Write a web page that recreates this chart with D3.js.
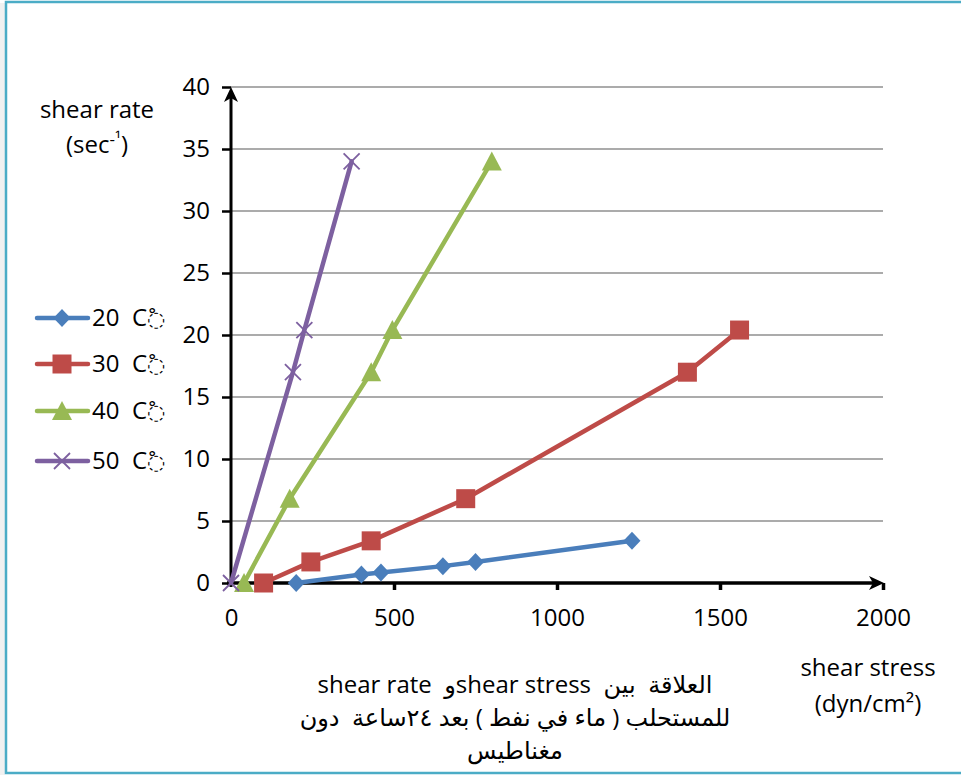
<!DOCTYPE html>
<html>
<head>
<meta charset="utf-8">
<script src="https://cdn.jsdelivr.net/npm/d3@7"></script>
<style>
  html, body { margin: 0; padding: 0; background: #fff; }
  svg { display: block; }
  text { font-family: "Open Sans", "DejaVu Sans", sans-serif; fill: #000; }
</style>
</head>
<body>
<div id="chart"></div>
<script>
// Shear rate (sec^-1) against shear stress (dyn/cm²) at four temperatures
const seriesNames = ["20  C\u25CC\u0652", "30  C\u25CC\u0652", "40  C\u25CC\u0652", "50  C\u25CC\u0652"];
const stress20 = [200, 400, 460, 650, 750, 1230];
const rate20   = [0, 0.68, 0.85, 1.36, 1.7, 3.4];
const stress30 = [100, 245, 430, 720, 1400, 1560];
const rate30   = [0, 1.7, 3.4, 6.8, 17, 20.4];
const stress40 = [40, 180, 430, 495, 800];
const rate40   = [0, 6.8, 17, 20.4, 34];
const stress50 = [0, 190, 225, 370];
const rate50   = [0, 17, 20.4, 34];
const xTicks = [0, 500, 1000, 1500, 2000];
const yTicks = [0, 5, 10, 15, 20, 25, 30, 35, 40];
const colors = ["#4a7ebb", "#be4b48", "#98b954", "#7d60a0"];
const markers = ["diamond", "square", "triangle", "cross"];

const W = 961, H = 775;
const FS = 24;
const svg = d3.select("#chart").append("svg").attr("width", W).attr("height", H);

// frame
svg.append("rect").attr("x", 0).attr("y", 3).attr("width", 5).attr("height", 772).attr("fill", "#f1f1f1");
svg.append("rect").attr("x", 6).attr("y", 2).attr("width", 1000).attr("height", 771)
  .attr("fill", "none").attr("stroke", "#4bacc6").attr("stroke-width", 2.5);

const x = d3.scaleLinear().domain([0, 2000]).range([231, 883]);
const y = d3.scaleLinear().domain([0, 40]).range([583, 87]);

// horizontal gridlines
svg.append("g").selectAll("line").data(yTicks.filter(d => d > 0)).join("line")
  .attr("x1", x(0)).attr("x2", x(2000))
  .attr("y1", d => y(d)).attr("y2", d => y(d))
  .attr("stroke", "#8f8f8f").attr("stroke-width", 1.6);

// y axis ticks and labels
const yAxis = d3.axisLeft(y).tickValues(yTicks).tickSize(9).tickPadding(12).tickFormat(d3.format("d"));
const gy = svg.append("g").attr("transform", `translate(${x(0)},0)`).call(yAxis);
gy.select(".domain").remove();
gy.selectAll(".tick line").attr("stroke", "#000").attr("stroke-width", 2.5);
gy.selectAll(".tick text").attr("font-size", FS).attr("font-family", "Open Sans").attr("fill", "#000");

// x axis ticks and labels
const xAxis = d3.axisBottom(x).tickValues(xTicks).tickSize(7).tickPadding(19).tickFormat(d3.format("d"));
const gx = svg.append("g").attr("transform", `translate(0,${y(0)})`).call(xAxis);
gx.select(".domain").remove();
gx.selectAll(".tick line").attr("stroke", "#000").attr("stroke-width", 3.5)
  .filter(d => d === 0).remove();
gx.selectAll(".tick text").attr("font-size", FS).attr("font-family", "Open Sans").attr("fill", "#000");

// axis lines with arrowheads
svg.append("line").attr("x1", x(0)).attr("x2", x(0)).attr("y1", y(0) + 4).attr("y2", y(40) + 6)
  .attr("stroke", "#000").attr("stroke-width", 3);
svg.append("path")
  .attr("d", `M${x(0)},${y(40)}L${x(0) + 7},${y(40) + 15}L${x(0)},${y(40) + 11}L${x(0) - 7},${y(40) + 15}Z`)
  .attr("fill", "#000");
svg.append("line").attr("x1", x(0) - 4).attr("x2", x(2000) - 6).attr("y1", y(0)).attr("y2", y(0))
  .attr("stroke", "#000").attr("stroke-width", 3.5);
svg.append("path")
  .attr("d", `M${x(2000) + 1},${y(0)}L${x(2000) - 14},${y(0) - 7}L${x(2000) - 10},${y(0)}L${x(2000) - 14},${y(0) + 7}Z`)
  .attr("fill", "#000");

// marker shapes
function markerPath(kind) {
  switch (kind) {
    case "diamond": return "M0,-9L8.5,0L0,9L-8.5,0Z";
    case "square": return "M-9.5,-9.5H9.5V9.5H-9.5Z";
    case "triangle": return "M0,-10L10,9L-10,9Z";
    default: return "M-8,-8L8,8M-8,8L8,-8";
  }
}
function drawMarker(g, kind, color) {
  const p = g.append("path").attr("d", markerPath(kind));
  if (kind === "cross") p.attr("fill", "none").attr("stroke", color).attr("stroke-width", 1.8);
  else p.attr("fill", color);
}

const series = [
  { xs: stress20, ys: rate20 },
  { xs: stress30, ys: rate30 },
  { xs: stress40, ys: rate40 },
  { xs: stress50, ys: rate50 }
];

const line = d3.line().x(d => x(d[0])).y(d => y(d[1]));

series.forEach((s, i) => {
  const pts = s.xs.map((v, j) => [v, s.ys[j]]);
  const g = svg.append("g");
  g.append("path").datum(pts).attr("d", line)
    .attr("fill", "none").attr("stroke", colors[i]).attr("stroke-width", 4.5)
    .attr("stroke-linejoin", "round").attr("stroke-linecap", "round");
  pts.forEach(p => {
    const m = g.append("g").attr("transform", `translate(${x(p[0])},${y(p[1])})`);
    drawMarker(m, markers[i], colors[i]);
  });
});

// legend
const legendY = [318, 364, 411, 461];
seriesNames.forEach((name, i) => {
  const g = svg.append("g").attr("transform", `translate(0,${legendY[i]})`);
  g.append("line").attr("x1", 37).attr("x2", 88).attr("y1", 0).attr("y2", 0)
    .attr("stroke", colors[i]).attr("stroke-width", 4.5).attr("stroke-linecap", "round");
  const m = g.append("g").attr("transform", "translate(62,0)");
  drawMarker(m, markers[i], colors[i]);
  const cut = name.indexOf("\u25CC");
  const t = g.append("text").attr("x", 92).attr("y", 8).attr("font-size", FS)
    .style("white-space", "pre");
  t.append("tspan").text(name.slice(0, cut));
  t.append("tspan").attr("font-family", "DejaVu Sans").attr("font-size", 21).text(name.slice(cut));
});

// y axis title
const yt = svg.append("text").attr("text-anchor", "middle").attr("font-size", FS);
yt.append("tspan").attr("x", 97).attr("y", 118).text("shear rate");
const yt2 = yt.append("tspan").attr("x", 97).attr("y", 153);
yt2.append("tspan").text("(sec");
yt2.append("tspan").attr("font-size", 17).attr("dy", -8).text("-¹");
yt2.append("tspan").attr("dy", 8).text(")");

// x axis title
const xt = svg.append("text").attr("text-anchor", "middle").attr("font-size", FS);
xt.append("tspan").attr("x", 868).attr("y", 676).text("shear stress");
xt.append("tspan").attr("x", 868).attr("y", 712).text("(dyn/cm²)");

// caption
const captionLines = [
  "العلاقة  بين  shear stressو  shear rate",
  "للمستحلب ( ماء في نفط ) بعد ٢٤ساعة  دون",
  "مغناطيس"
];
const captionY = [693, 726, 759];
captionLines.forEach((t, i) => {
  svg.append("text").attr("x", 515).attr("y", captionY[i])
    .attr("text-anchor", "middle").attr("direction", "rtl")
    .style("unicode-bidi", "embed").style("white-space", "pre")
    .attr("font-size", 24).text(t);
});
</script>
</body>
</html>
